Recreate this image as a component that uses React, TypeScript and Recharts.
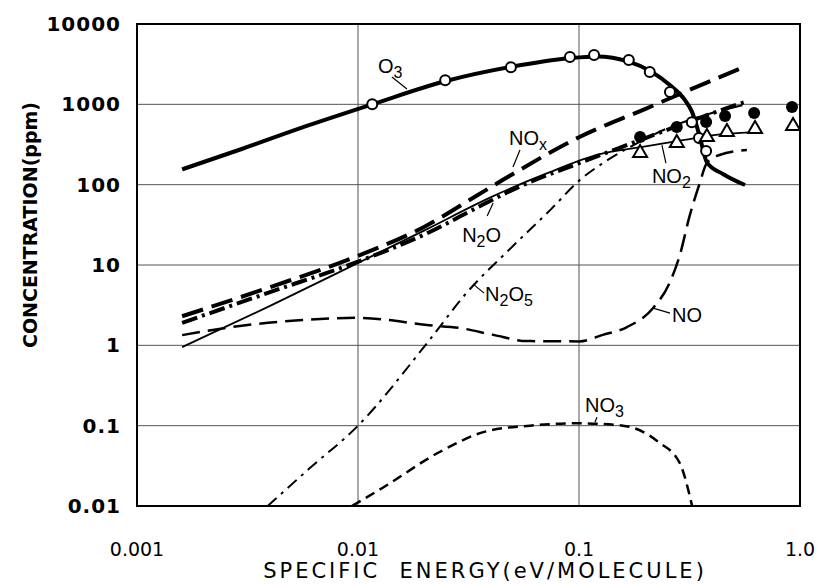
import React from "react";
import {
  CartesianGrid,
  ComposedChart,
  Label,
  Line,
  ReferenceArea,
  ReferenceDot,
  Scatter,
  XAxis,
  YAxis,
} from "recharts";

// axis ticks
const xTicks = [0.001, 0.01, 0.1, 1];
const xTickLabels = ["0.001", "0.01", "0.1", "1.0"];
const yTicks = [0.01, 0.1, 1, 10, 100, 1000, 10000];
const yTickLabels = ["0.01", "0.1", "1", "10", "100", "1000", "10000"];

// calculated curves (specific energy eV/molecule -> ppm)
const o3 = [
  { x: 0.0016, y: 155 }, { x: 0.003, y: 280 }, { x: 0.006, y: 550 },
  { x: 0.0116, y: 1000 }, { x: 0.025, y: 1950 }, { x: 0.05, y: 2950 },
  { x: 0.09, y: 3750 }, { x: 0.12, y: 3950 }, { x: 0.168, y: 3400 },
  { x: 0.21, y: 2600 }, { x: 0.26, y: 1700 }, { x: 0.3, y: 1150 },
  { x: 0.325, y: 800 }, { x: 0.35, y: 420 }, { x: 0.379, y: 190 },
  { x: 0.45, y: 135 }, { x: 0.564, y: 99 },
];
const nox = [
  { x: 0.0016, y: 2.3 }, { x: 0.004, y: 5.3 }, { x: 0.01, y: 13 },
  { x: 0.02, y: 30 }, { x: 0.035, y: 75 }, { x: 0.05, y: 135 },
  { x: 0.1, y: 390 }, { x: 0.2, y: 880 }, { x: 0.3, y: 1420 },
  { x: 0.57, y: 3000 },
];
const n2o = [
  { x: 0.0016, y: 1.9 }, { x: 0.004, y: 4.6 }, { x: 0.01, y: 11 },
  { x: 0.02, y: 24 }, { x: 0.037, y: 57 }, { x: 0.054, y: 95 },
  { x: 0.1, y: 185 }, { x: 0.2, y: 380 }, { x: 0.3, y: 580 },
  { x: 0.58, y: 1100 },
];
const no2 = [
  { x: 0.0016, y: 0.95 }, { x: 0.004, y: 3.1 }, { x: 0.01, y: 10.6 },
  { x: 0.02, y: 27 }, { x: 0.04, y: 70 }, { x: 0.07, y: 135 },
  { x: 0.124, y: 240 }, { x: 0.2, y: 300 }, { x: 0.3, y: 360 },
  { x: 0.4, y: 410 }, { x: 0.62, y: 450 },
];
const n2o5 = [
  { x: 0.0039, y: 0.01 }, { x: 0.006, y: 0.029 }, { x: 0.01, y: 0.1 },
  { x: 0.0205, y: 1.06 }, { x: 0.031, y: 4.5 }, { x: 0.05, y: 17 },
  { x: 0.075, y: 50 }, { x: 0.1, y: 112 }, { x: 0.13, y: 190 },
  { x: 0.18, y: 320 }, { x: 0.25, y: 500 }, { x: 0.35, y: 700 },
  { x: 0.57, y: 1000 },
];
const no = [
  { x: 0.0016, y: 1.34 }, { x: 0.0031, y: 1.78 }, { x: 0.0056, y: 2.06 },
  { x: 0.01, y: 2.2 }, { x: 0.021, y: 1.78 }, { x: 0.029, y: 1.64 },
  { x: 0.041, y: 1.35 }, { x: 0.058, y: 1.13 }, { x: 0.1, y: 1.12 },
  { x: 0.128, y: 1.35 }, { x: 0.165, y: 1.69 }, { x: 0.216, y: 2.9 },
  { x: 0.257, y: 6 }, { x: 0.286, y: 13.3 }, { x: 0.316, y: 40 },
  { x: 0.35, y: 100 }, { x: 0.379, y: 186 }, { x: 0.432, y: 234 },
  { x: 0.575, y: 270 },
];
const no3 = [
  { x: 0.0094, y: 0.01 }, { x: 0.013, y: 0.017 }, { x: 0.0234, y: 0.047 },
  { x: 0.038, y: 0.085 }, { x: 0.06, y: 0.1 }, { x: 0.1, y: 0.107 },
  { x: 0.158, y: 0.1 }, { x: 0.23, y: 0.062 }, { x: 0.286, y: 0.034 },
  { x: 0.325, y: 0.01 },
];

// measured points
const o3Measured = [
  { x: 0.0116, y: 1000 }, { x: 0.0248, y: 2000 }, { x: 0.0492, y: 2900 },
  { x: 0.091, y: 3880 }, { x: 0.117, y: 4100 }, { x: 0.168, y: 3560 },
  { x: 0.209, y: 2520 }, { x: 0.258, y: 1420 }, { x: 0.324, y: 600 },
  { x: 0.349, y: 380 }, { x: 0.376, y: 262 },
];
const noxMeasured = [
  { x: 0.189, y: 392 }, { x: 0.277, y: 521 }, { x: 0.376, y: 603 },
  { x: 0.458, y: 714 }, { x: 0.62, y: 780 }, { x: 0.92, y: 925 },
];
const no2Measured = [
  { x: 0.189, y: 255 }, { x: 0.277, y: 339 }, { x: 0.379, y: 403 },
  { x: 0.467, y: 465 }, { x: 0.626, y: 507 }, { x: 0.93, y: 552 },
];

// curve labels: anchor at text baseline start, leader offsets in px
const curveLabels = [
  { x: 0.01231, y: 2455, main: "O", sub: "3", tail: "", lead: [14, 4, 29, 16] },
  { x: 0.0482, y: 311, main: "NO", sub: "x", tail: "", lead: [11, 5, 4, 22] },
  { x: 0.0296, y: 19.3, main: "N", sub: "2", tail: "O", lead: [25, -26, 31, -39] },
  { x: 0.2138, y: 104.7, main: "NO", sub: "2", tail: "", lead: [14, -20, 10, -38] },
  { x: 0.0376, y: 3.55, main: "N", sub: "2", tail: "O", sub2: "5", lead: [-1, -8, -12, -17] },
  { x: 0.2636, y: 1.945, main: "NO", sub: "", tail: "", lead: [-2, -9, -19, -14] },
  { x: 0.1064, y: 0.147, main: "NO", sub: "3", tail: "", lead: [12, 5, 10, 10] },
];

const axisFont = "'DejaVu Sans', sans-serif";
const labelFont = "'Liberation Sans', Arial, sans-serif";

const XTick = ({ x, y, index }: any) => (
  <text x={x} y={y + 50} textAnchor="middle" fontFamily={axisFont} fontSize={19} fill="#000">
    {xTickLabels[index]}
  </text>
);

const YTick = ({ x, y, index }: any) => (
  <text x={x - 16} y={y + 7} textAnchor="end" fontFamily={axisFont} fontWeight="bold" fontSize={20} letterSpacing={1} fill="#000">
    {yTickLabels[index]}
  </text>
);

const OpenCircle = ({ cx, cy }: any) => (
  <circle cx={cx} cy={cy} r={5} fill="#fff" stroke="#000" strokeWidth={2} />
);
const FilledCircle = ({ cx, cy }: any) => <circle cx={cx} cy={cy} r={6} fill="#000" />;
const Triangle = ({ cx, cy }: any) => (
  <polygon
    points={`${cx},${cy - 7} ${cx - 7},${cy + 5} ${cx + 7},${cy + 5}`}
    fill="#fff"
    stroke="#000"
    strokeWidth={2}
  />
);

const CurveLabel = ({ cx, cy, item }: any) => {
  const [x1, y1, x2, y2] = item.lead;
  return (
    <g>
      <line x1={cx + x1} y1={cy + y1} x2={cx + x2} y2={cy + y2} stroke="#000" strokeWidth={1.2} />
      <text x={cx} y={cy} fontFamily={labelFont} fontSize={20} fill="#000">
        {item.main}
        {item.sub && (
          <tspan fontSize={16} dy={5}>
            {item.sub}
          </tspan>
        )}
        {item.tail && (
          <tspan fontSize={20} dy={-5}>
            {item.tail}
          </tspan>
        )}
        {item.sub2 && (
          <tspan fontSize={16} dy={5}>
            {item.sub2}
          </tspan>
        )}
      </text>
    </g>
  );
};

const lineProps = {
  type: "monotone" as const,
  dataKey: "y",
  dot: false,
  activeDot: false,
  isAnimationActive: false,
  stroke: "#000",
};

export default function App() {
  return (
    <ComposedChart width={821} height={577} margin={{ top: 16, right: 29, bottom: 0, left: 0 }}>
      <CartesianGrid stroke="#555" strokeWidth={1} />
      <XAxis
        dataKey="x"
        type="number"
        scale="log"
        domain={[0.001, 1]}
        ticks={xTicks}
        allowDataOverflow
        height={79}
        tickSize={0}
        tickMargin={0}
        tickLine={false}
        stroke="#000"
        strokeWidth={2}
        tick={<XTick />}
        interval={0}
      >
        <Label
          content={() => (
            <text
              x={477}
              y={570}
              textAnchor="middle"
              fontFamily={axisFont}
              fontSize={21}
              letterSpacing={3}
              fill="#000"
              style={{ whiteSpace: "pre" }}
            >
              {"SPECIFIC  ENERGY(eV/MOLECULE)"}
            </text>
          )}
        />
      </XAxis>
      <YAxis
        dataKey="y"
        type="number"
        scale="log"
        domain={[0.01, 10000]}
        ticks={yTicks}
        allowDataOverflow
        width={129}
        tickSize={0}
        tickMargin={0}
        tickLine={false}
        stroke="#000"
        strokeWidth={2}
        tick={<YTick />}
        interval={0}
      >
        <Label
          content={() => (
            <text
              x={22}
              y={217}
              transform="rotate(-90 22 217)"
              textAnchor="middle"
              dominantBaseline="central"
              fontFamily={axisFont}
              fontWeight="bold"
              fontSize={19}
              fill="#000"
            >
              CONCENTRATION(ppm)
            </text>
          )}
        />
      </YAxis>
      <ReferenceArea x1={0.001} x2={1} y1={0.01} y2={10000} fill="none" stroke="#000" strokeWidth={2} />

      <Line {...lineProps} data={o3} strokeWidth={4} />
      <Line {...lineProps} data={nox} strokeWidth={4} strokeDasharray="22 9" />
      <Line {...lineProps} data={n2o} strokeWidth={4} strokeDasharray="16 5 3 5" />
      <Line {...lineProps} data={no2} strokeWidth={1.8} />
      <Line {...lineProps} data={n2o5} strokeWidth={2} strokeDasharray="12 6 3 6" />
      <Line {...lineProps} data={no} strokeWidth={2.5} strokeDasharray="18 8" />
      <Line {...lineProps} data={no3} strokeWidth={2.5} strokeDasharray="10 6" />

      <Scatter data={o3Measured} shape={<OpenCircle />} isAnimationActive={false} />
      <Scatter data={noxMeasured} shape={<FilledCircle />} isAnimationActive={false} />
      <Scatter data={no2Measured} shape={<Triangle />} isAnimationActive={false} />

      {curveLabels.map((item, i) => (
        <ReferenceDot
          key={i}
          x={item.x}
          y={item.y}
          r={0}
          ifOverflow="visible"
          shape={(p: any) => <CurveLabel {...p} item={item} />}
        />
      ))}
    </ComposedChart>
  );
}
